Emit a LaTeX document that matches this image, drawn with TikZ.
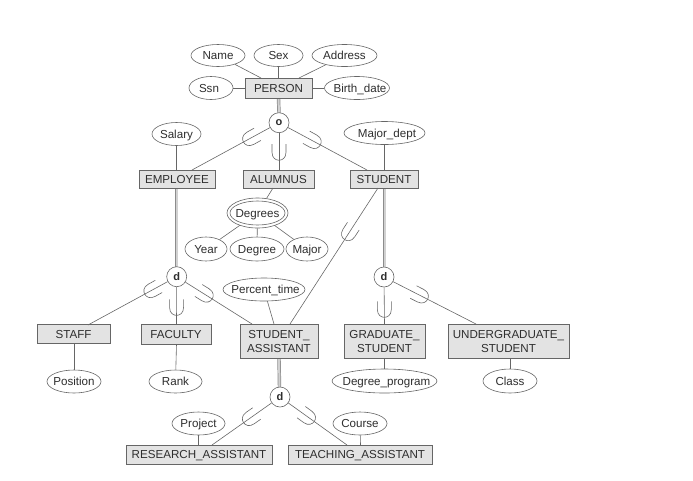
\documentclass[tikz,border=0pt]{standalone}
\usepackage{fontspec}
\setmainfont{Liberation Sans}
\usetikzlibrary{shapes.geometric}
\definecolor{ln}{gray}{0.40}
\definecolor{bx}{gray}{0.89}
\definecolor{tx}{gray}{0.18}
\tikzset{
  every node/.style={font=\fontsize{11.6}{14}\selectfont, text=tx, inner sep=0pt, align=center},
  ent/.style={rectangle, draw=ln, fill=bx, line width=0.7pt, text depth=0pt},
  attr/.style={ellipse, draw=ln, line width=0.6pt, fill=white},
  circ/.style={circle, draw=ln, line width=0.6pt, fill=white, minimum size=20pt, font=\fontsize{11}{14}\selectfont\bfseries},
  conn/.style={draw=ln, line width=0.6pt},
  dbl/.style={draw=ln!75, line width=0.7pt, double=white!70!ln, double distance=2pt},
  subsetmark/.pic={\draw[ln, line width=0.6pt] (-7,-8) -- (-7,0) .. controls (-7,6) and (-3,8) .. (0,8) .. controls (3,8) and (7,6) .. (7,0) -- (7,-8);}
}
\newcommand{\entity}[5]{\node[ent, minimum width=#3pt, minimum height=#4pt] (#1) at (#2) {#5};}
\newcommand{\lbl}[1]{\makebox[0pt][c]{\raisebox{-.36em}[0pt][0pt]{#1}}}
\newcommand{\attrib}[5]{\node[attr, minimum width=#3pt, minimum height=#4pt] (#1) at (#2) {\lbl{#5}};}
\begin{document}
\begin{tikzpicture}[x=1pt,y=-1pt]
\useasboundingbox (0,0) rectangle (693,480);
% coordinates on box edges
\coordinate (pA) at (261,78);
\coordinate (pB) at (278.5,78);
\coordinate (pC) at (299,78);
\coordinate (pD) at (278.5,98);
\coordinate (eT) at (192,170);
\coordinate (eS) at (176.5,170);
\coordinate (eB) at (176.5,188);
\coordinate (aT) at (279,170);
\coordinate (aB) at (273,188);
\coordinate (sT) at (367,170);
\coordinate (sM) at (384.5,170);
\coordinate (sB) at (378,188);
\coordinate (sD) at (384.5,188);
\coordinate (saA) at (252,324);
\coordinate (saB) at (274,324);
\coordinate (saC) at (290,324);
\coordinate (saD) at (279,358);
\coordinate (stT) at (88,325);
\coordinate (stB) at (74,343);
\coordinate (fT) at (176.5,324);
\coordinate (fB) at (176.5,344);
\coordinate (gT) at (384.5,324);
\coordinate (gB) at (384.5,358);
\coordinate (uT) at (476,324);
\coordinate (uB) at (510,358);
\coordinate (rT) at (212,445);
\coordinate (rA) at (198.5,445);
\coordinate (tT) at (347,445);
\coordinate (tA) at (360.5,445);
% connectors
\draw[dbl] (pD) -- (279,113);
\draw[dbl] (eB) -- (176.5,267);
\draw[dbl] (sD) -- (384.5,267);
\draw[dbl] (saD) -- (279.5,388);
% entities
\entity{person}{278.5,88}{67}{20}{PERSON}
\entity{employee}{177,179}{76}{18}{EMPLOYEE}
\entity{alumnus}{278.5,179}{71}{18}{ALUMNUS}
\entity{student}{384,179}{68}{18}{STUDENT}
\entity{staff}{73.5,334}{73}{19}{STAFF}
\entity{faculty}{176,334}{70}{20}{FACULTY}
\entity{sa}{279,341}{78}{34}{STUDENT\_\\ASSISTANT}
\entity{grad}{384.5,341}{81}{34}{GRADUATE\_\\STUDENT}
\entity{under}{508.5,341}{121}{34}{UNDERGRADUATE\_\\STUDENT}
\entity{research}{199,454.5}{146}{19}{RESEARCH\_ASSISTANT}
\entity{teaching}{360,454.5}{144}{19}{TEACHING\_ASSISTANT}
% attributes
\attrib{name}{218,55.5}{54}{22}{Name}
\attrib{sex}{278.5,55.5}{49}{22}{Sex}
\attrib{address}{344.5,55.5}{65}{22}{Address}
\attrib{ssn}{211,88}{44}{23}{\hspace{-4pt}Ssn}
\attrib{bdate}{357,88}{65}{23}{\hspace{6pt}Birth\_date}
\attrib{salary}{176.5,134}{49}{23}{Salary}
\attrib{major}{384.5,133}{81}{23}{\hspace{5pt}Major\_dept}
\node[attr, minimum width=61pt, minimum height=30pt] (degrees) at (257.5,213) {};
\attrib{degreesin}{257.5,213}{55}{24}{Degrees}
\attrib{year}{206,249}{42}{24}{Year}
\attrib{degree}{257,249}{54}{24}{Degree}
\attrib{majr}{307,249}{42}{24}{Major}
\attrib{ptime}{264,289.5}{82}{23}{\hspace{3pt}Percent\_time}
\attrib{position}{74,381.5}{54}{23}{Position}
\attrib{rank}{175.5,381.5}{53}{23}{Rank}
\attrib{dprog}{384.5,381}{105}{24}{\hspace{4pt}Degree\_program}
\attrib{class}{510,381}{54}{24}{Class}
\attrib{project}{198.5,423.5}{53}{23}{Project}
\attrib{course}{360,423.5}{54}{23}{Course}
% circles
\node[circ] (o) at (279,122.7) {o};
\node[circ] (dl) at (176.7,276.7) {d};
\node[circ] (dr) at (384,277) {d};
\node[circ] (db) at (280,397) {d};
% attribute connectors
\draw[conn] (name) -- (pA);
\draw[conn] (sex) -- (pB);
\draw[conn] (address) -- (pC);
\draw[conn] (ssn) -- (person);
\draw[conn] (bdate) -- (person);
\draw[conn] (salary) -- (eS);
\draw[conn] (major) -- (sM);
\draw[conn] (aB) -- (degrees);
\draw[conn] (degrees) -- (year);
\draw[conn] (degrees) -- (degree);
\draw[conn] (degrees) -- (majr);
\draw[conn] (ptime) -- (saB);
\draw[conn] (stB) -- (position);
\draw[conn] (fB) -- (rank);
\draw[conn] (gB) -- (dprog);
\draw[conn] (uB) -- (class);
\draw[conn] (project) -- (rA);
\draw[conn] (course) -- (tA);
% specialization connectors with subset marks
\draw[conn] (o) -- (eT) pic[pos=0.25, rotate=-61] {subsetmark};
\draw[conn] (o) -- (aT) pic[pos=0.52, rotate=0] {subsetmark};
\draw[conn] (o) -- (sT) pic[pos=0.32, rotate=61] {subsetmark};
\draw[conn] (sB) -- (saC) pic[pos=0.33, rotate=-33] {subsetmark};
\draw[conn] (dl) -- (stT) pic[pos=0.2, rotate=-61] {subsetmark};
\draw[conn] (dl) -- (fT) pic[pos=0.55, rotate=0] {subsetmark};
\draw[conn] (dl) -- (saA) pic[pos=0.3, rotate=58] {subsetmark};
\draw[conn] (dr) -- (gT) pic[pos=0.6, rotate=0] {subsetmark};
\draw[conn] (dr) -- (uT) pic[pos=0.33, rotate=63] {subsetmark};
\draw[conn] (db) -- (rT) pic[pos=0.36, rotate=-55] {subsetmark};
\draw[conn] (db) -- (tT) pic[pos=0.33, rotate=54] {subsetmark};
\end{tikzpicture}
\end{document}
